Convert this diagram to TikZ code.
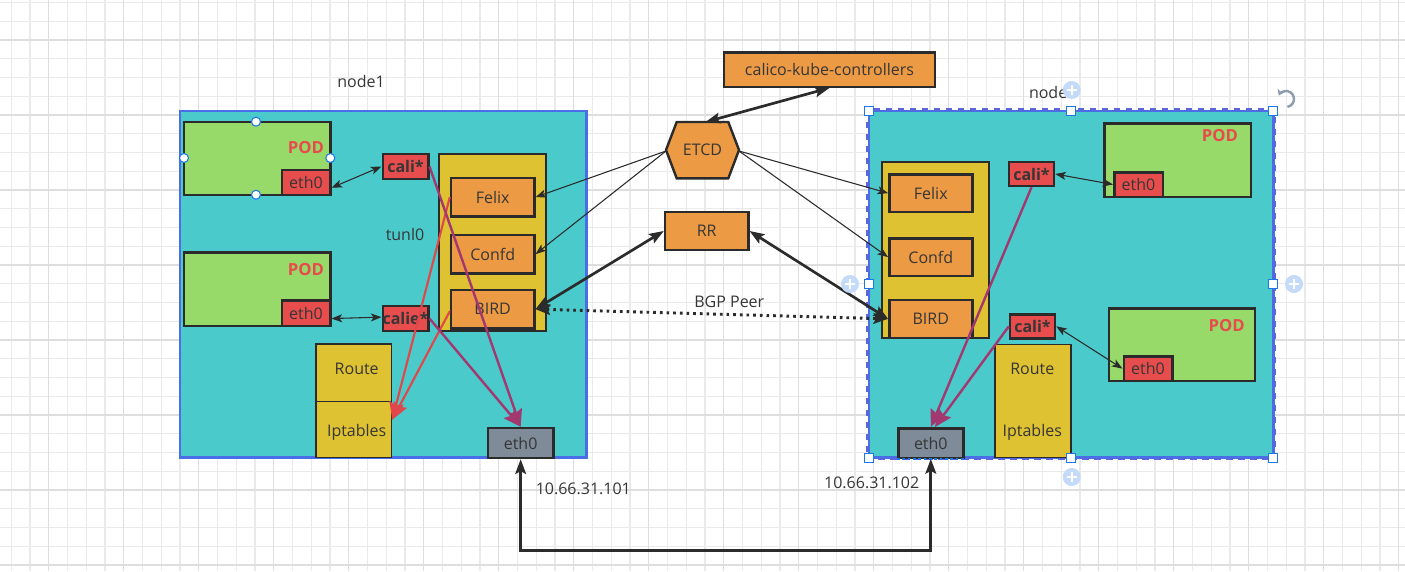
\documentclass[tikz,border=0pt]{standalone}
\usepackage{fontspec}
\setmainfont{Open Sans}
\usetikzlibrary{arrows.meta,fit,calc}
\definecolor{cTeal}{HTML}{4BCACC}
\definecolor{cBlue}{HTML}{4A6EE8}
\definecolor{cBlueDash}{HTML}{5A66DC}
\definecolor{cGreen}{HTML}{97DA6A}
\definecolor{cRed}{HTML}{E84D4D}
\definecolor{cRedText}{HTML}{E84B4B}
\definecolor{cOrange}{HTML}{ED9A45}
\definecolor{cYellow}{HTML}{DFC231}
\definecolor{cGrey}{HTML}{7F8B98}
\definecolor{cLine}{HTML}{2B2B2B}
\definecolor{cText}{HTML}{363636}
\definecolor{cPurple}{HTML}{A2386F}
\definecolor{cRedArrow}{HTML}{E0474A}
\definecolor{cGridMinor}{HTML}{EAEAEA}
\definecolor{cGridMajor}{HTML}{DEDEDE}
\definecolor{cHandle}{HTML}{1C78E8}
\definecolor{cPlus}{HTML}{C3DBF8}
\definecolor{cRot}{HTML}{8E9CB0}
\tikzset{
  txt/.style={font=\fontsize{12}{14}\selectfont, text=cText},
  txtb/.style={font=\bfseries\fontsize{12}{14}\selectfont, text=cText},
  t/.style={label={[txt]center:#1}},
  tb/.style={label={[txtb]center:#1}},
  base/.style={inner sep=0pt, line width=1.8pt, draw=cLine},
  hostbox/.style={inner sep=0pt, fill=cTeal, draw=cBlue, line width=2pt},
  podbox/.style={base, fill=cGreen},
  redbox/.style={base, fill=cRed},
  orangebox/.style={base, fill=cOrange},
  yellowbox/.style={base, fill=cYellow},
  greybox/.style={base, fill=cGrey},
  tablebox/.style={inner sep=0pt, draw=cLine, line width=0.8pt, fill=cYellow},
  podlabel/.style={text=cRedText, font=\bfseries\fontsize{12.5}{14}\selectfont},
  thintip/.tip={Stealth[length=8pt,width=6pt,inset=2pt]},
  bigtip/.tip={Stealth[length=11pt,width=8pt,inset=2pt]},
  flowtip/.tip={Stealth[length=13pt,width=11pt,inset=2pt]},
  thinarrow/.style={draw=cLine, line width=0.8pt},
  thickarrow/.style={draw=cLine, line width=2pt},
  purplearrow/.style={draw=cPurple, line width=1.8pt, -flowtip},
  redarrow/.style={draw=cRedArrow, line width=1.6pt, -flowtip},
  handlecircle/.style={fill=white, draw=cHandle, line width=0.8pt},
  handlesquare/.style={fill=white, draw=cHandle, line width=0.8pt},
}
\begin{document}
\begin{tikzpicture}[x=0.75pt,y=-0.75pt]
\useasboundingbox (0,0) rectangle (1405,571);
\fill[white] (0,0) rectangle (1405,571);
% grid
\foreach \i in {0,...,74} {\draw[cGridMinor, line width=0.9pt] ({11.25+\i*18.75},0) -- ({11.25+\i*18.75},571);}
\foreach \j in {0,...,30} {\draw[cGridMinor, line width=0.9pt] (0,{2.5+\j*18.75}) -- (1405,{2.5+\j*18.75});}
\foreach \i in {0,...,18} {\draw[cGridMajor, line width=1pt] ({48.75+\i*75},0) -- ({48.75+\i*75},571);}
\foreach \j in {0,...,7} {\draw[cGridMajor, line width=1pt] (0,{40+\j*75}) -- (1405,{40+\j*75});}

% ===== node1 =====
\node[txt] (lab1) at (361,81) {node1};
\node[hostbox, fit={(180,111)(586.7,457.7)}] (host1) {};
\node[podbox, fit={(184,121.7)(330.3,194.7)}] (podL1) {};
\node[podlabel] at (306,147.3) {POD};
\node[redbox, t=eth0, fit={(281.7,170)(330.3,194.7)}] (ethL1) {};
\node[podbox, fit={(184,252.3)(330.3,325.7)}] (podL2) {};
\node[podlabel] at (306,270) {POD};
\node[redbox, t=eth0, fit={(281.7,300.3)(330.3,325.7)}] (ethL2) {};
\node[redbox, tb=cali*, fit={(382.7,154)(428.3,179)}] (caliL1) {};
\node[redbox, tb=calie*, fit={(382.7,306)(428.3,331)}] (caliL2) {};
\node[txt] (tunl) at (405,234) {tunl0};
\node[yellowbox, fit={(438.7,154)(546,331)}] (yelL) {};
\node[orangebox, t=Felix, fit={(451,178)(534.3,216.3)}] (felixL) {};
\node[orangebox, t=Confd, fit={(451,235)(534.3,273.3)}] (confdL) {};
\node[orangebox, t=BIRD, fit={(451,290)(534.3,328.3)}] (birdL) {};
\node[tablebox, fit={(316,344)(391.7,401.3)}] (routeL) {};
\node[tablebox, fit={(316,401.3)(391.7,457.7)}] (iptL) {};
\node[txt] at (356.7,368.7) {Route};
\node[txt] at (356.7,432.7) {Iptables};
\node[greybox, t=eth0, fit={(488,428)(553.3,458)}] (ethL) {};

% ===== node2 =====
\node[txt] (lab2) at (1052.7,92) {node2};
\node[hostbox, fit={(869,111)(1273.3,457.7)}] (host2) {};
\draw[cBlueDash, line width=2pt, dash pattern=on 5pt off 4pt] (host2.north west) rectangle (host2.south east);
\node[yellowbox, fit={(882,162)(988.7,337.7)}] (yelR) {};
\node[orangebox, t=Felix, fit={(889.3,174.3)(972.3,212)}] (felixR) {};
\node[orangebox, t=Confd, fit={(889.3,238.3)(972.3,276)}] (confdR) {};
\node[orangebox, t=BIRD, fit={(889.3,300)(972.3,337.7)}] (birdR) {};
\node[redbox, tb=cali*, fit={(1009,162)(1054,186)}] (caliR1) {};
\node[redbox, tb=cali*, fit={(1010,314.3)(1055,338.3)}] (caliR2) {};
\node[podbox, fit={(1104.3,123.3)(1251,196.7)}] (podR1) {};
\node[podlabel] at (1220,136) {POD};
\node[redbox, t=eth0, fit={(1114.3,172.3)(1162.7,196.7)}] (ethR1) {};
\node[podbox, fit={(1109,308.3)(1255,381)}] (podR2) {};
\node[podlabel] at (1226.7,326) {POD};
\node[redbox, t=eth0, fit={(1123.7,356.3)(1172.3,381)}] (ethR2) {};
\node[tablebox, fit={(995,344.3)(1071,457.7)}] (tabR) {};
\node[txt] at (1032.3,368.7) {Route};
\node[txt] at (1032.3,432.7) {Iptables};
\node[greybox, t=eth0, fit={(898.3,428.3)(963.3,457.7)}] (ethR) {};
\draw[cHandle, line width=1pt, dash pattern=on 2pt off 2pt] (ethR.south west) -- (ethR.south east);

% ===== centre =====
\node[orangebox, t=calico-kube-controllers, fit={(724,52.3)(935,86.7)}] (ckc) {};
\draw[base, fill=cOrange] (666,150) -- (676.7,122) -- (728.3,122) -- (739,150) -- (728.3,178.3) -- (676.7,178.3) -- cycle;
\node[txt] (etcd) at (702.5,150) {ETCD};
\coordinate (etcdW) at (666,151);
\coordinate (etcdE) at (739,151);
\coordinate (etcdT) at (705.5,122);
\node[orangebox, t=RR, fit={(665,212)(748.3,250)}] (rr) {};
\node[txt] (bgp) at (729.3,302) {BGP Peer};

% ===== connectors =====
\draw[thickarrow, bigtip-bigtip] (ckc.south) -- (etcdT);
\draw[thinarrow, -thintip] (etcdW) -- (felixL.east);
\draw[thinarrow, -thintip] (etcdW) -- (confdL.east);
\draw[thinarrow, -thintip] (etcdE) -- (felixR.west);
\draw[thinarrow, -thintip] (etcdE) -- (confdR.west);
\draw[thickarrow, bigtip-bigtip] (rr.west) -- (birdL.east);
\draw[thickarrow, bigtip-bigtip] (rr.east) -- (birdR.west);
\draw[draw=cLine, line width=2.2pt, dash pattern=on 2pt off 3pt, bigtip-bigtip] (birdL.east) -- (birdR.west);

\draw[thinarrow, thintip-thintip] ($(ethL1.north east)!0.7!(ethL1.south east)$) -- (caliL1.west);
\draw[thinarrow, thintip-thintip] ($(ethL2.north east)!0.7!(ethL2.south east)$) -- ($(caliL2.north west)!0.45!(caliL2.south west)$);
\draw[thinarrow, thintip-thintip] (caliR1.east) -- (ethR1.west);
\draw[thinarrow, thintip-thintip] (caliR2.east) -- (ethR2.west);

\coordinate (iptTip) at ($(iptL.north east)!0.33!(iptL.south east)$);
\draw[redarrow] (felixL.west) -- (iptTip);
\draw[redarrow] ($(birdL.north west)!0.55!(birdL.south west)$) -- (iptTip);
\draw[purplearrow] ($(caliL1.north east)!0.5!(caliL1.south east)$) -- (ethL.north);
\draw[purplearrow] ($(caliL2.north east)!0.5!(caliL2.south east)$) -- (ethL.north);
\draw[purplearrow] (caliR1.south) -- (ethR.north);
\draw[purplearrow] (caliR2.west) -- ([xshift=3pt]ethR.north);

\coordinate (botY) at (0,550.7);
\draw[thickarrow, bigtip-bigtip] (ethL.south) -- (ethL.south |- botY) -- (ethR.south |- botY) -- (ethR.south);
\node[txt] (ip1) at (583.3,489) {10.66.31.101};
\node[txt] (ip2) at (871.7,483.3) {10.66.31.102};

% ===== editor handles =====
\foreach \hx/\hy in {256/121.7,184/158,330.3/158,256/194.7} {\draw[handlecircle] (\hx,\hy) circle (4.5);}
\foreach \hx/\hy in {869/111,1071/111,1273.3/111,869/284,1273.3/284,869/457.7,1071/457.7,1273.3/457.7} {\draw[handlesquare] (\hx-4.5,\hy-4.5) rectangle (\hx+4.5,\hy+4.5);}
\foreach \hx/\hy in {1071.7/90,850/284,1294/284,1071.7/477} {
  \fill[cPlus] (\hx,\hy) circle (9);
  \draw[white, line width=1.2pt] (\hx-5,\hy) -- (\hx+5,\hy) (\hx,\hy-5) -- (\hx,\hy+5);
}
\draw[cRot, line width=1.8pt, -{Stealth[length=4.5pt,width=6pt]}] ($(1286,99)+(80:8)$) arc[start angle=80, end angle=-155, radius=8];
\end{tikzpicture}
\end{document}
